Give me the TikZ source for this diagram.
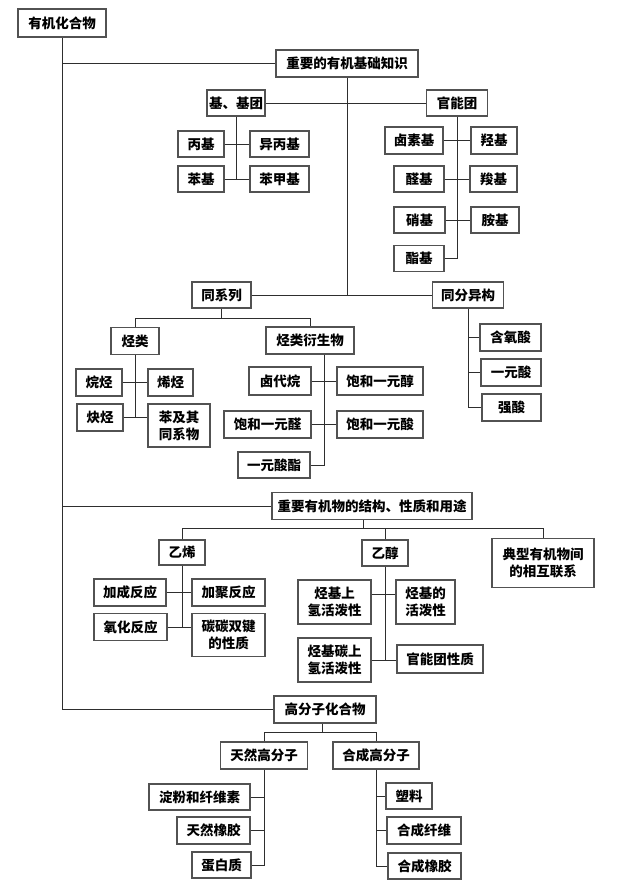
\documentclass[tikz,border=0pt]{standalone}
\usepackage{fontspec}
\newfontfamily\cjkfont{Noto Sans CJK SC}
\usepackage{tikz}
\usetikzlibrary{positioning}
\colorlet{boxline}{black!68}
\colorlet{linkline}{black!82}

\begin{document}
\begin{tikzpicture}[x=1pt,y=-1pt,
    box/.style={draw=boxline,line width=1.1pt,fill=white,inner sep=0pt,align=center,
      font=\cjkfont\bfseries\fontsize{13.5}{17}\selectfont},
    sz/.style 2 args={minimum width=#1,minimum height=#2},
    link/.style={draw=linkline,line width=1pt}]
  \useasboundingbox (0,0) rectangle (626,892);
  % trunk
  \node[box,sz={88}{28}] (root) at (62,23) {有机化合物};
  \node[box,sz={142}{27}] (basic) at (347,63.5) {重要的有机基础知识};
  \node[box,sz={200}{27}] (struct) at (372,506) {重要有机物的结构、性质和用途};
  \node[box,sz={102}{27}] (poly) at (325,709.5) {高分子化合物};
  % basic knowledge
  \node[box,sz={58}{26}] (group) at (236,103) {基、基团};
  \node[box,sz={61}{26}] (func) at (457,103) {官能团};
  \node[box,sz={46}{26}] (propyl) at (201,144) {丙基};
  \node[box,sz={59}{26}] (isopropyl) at (279.5,144) {异丙基};
  \node[box,sz={46}{26}] (phenyl) at (201,179) {苯基};
  \node[box,sz={59}{26}] (benzyl) at (279.5,179) {苯甲基};
  \node[box,sz={58}{27}] (halo) at (414,140.5) {卤素基};
  \node[box,sz={46}{27}] (hydroxy) at (494,140.5) {羟基};
  \node[box,sz={50}{26}] (aldehyde) at (419,179) {醛基};
  \node[box,sz={47}{26}] (carboxyl) at (493.5,179) {羧基};
  \node[box,sz={51}{26}] (nitro) at (419.5,220) {硝基};
  \node[box,sz={48}{26}] (amino) at (495,220) {胺基};
  \node[box,sz={50}{26}] (ester) at (419,258.5) {酯基};
  \node[box,sz={59}{26}] (homo) at (221.5,295) {同系列};
  \node[box,sz={71}{26}] (isomer) at (468,295) {同分异构};
  \node[box,sz={48}{27}] (hydrocarbon) at (135,341) {烃类};
  \node[box,sz={88}{27}] (derivative) at (310,340.5) {烃类衍生物};
  \node[box,sz={46}{27}] (alkane) at (99,382.5) {烷烃};
  \node[box,sz={45}{27}] (alkene) at (170.5,382.5) {烯烃};
  \node[box,sz={46}{27}] (alkyne) at (100,417.5) {炔烃};
  \node[box,sz={62}{43}] (benzene) at (179,425.5) {苯及其\\同系物};
  \node[box,sz={62}{28}] (haloalkane) at (280,381) {卤代烷};
  \node[box,sz={86}{28}] (alcohol) at (380,381) {饱和一元醇};
  \node[box,sz={87}{27}] (aldehydex) at (267.5,424.5) {饱和一元醛};
  \node[box,sz={86}{27}] (acid) at (380,424.5) {饱和一元酸};
  \node[box,sz={72}{26}] (esterx) at (274,465) {一元酸酯};
  \node[box,sz={61}{27}] (oxyacid) at (510.5,337.5) {含氧酸};
  \node[box,sz={60}{27}] (monoacid) at (511,372.5) {一元酸};
  \node[box,sz={59}{27}] (strong) at (511.5,407.5) {强酸};
  % structure and properties
  \node[box,sz={46}{25}] (ethylene) at (182,552.5) {乙烯};
  \node[box,sz={46}{26}] (ethanol) at (385,553) {乙醇};
  \node[box,sz={102}{49}] (typical) at (543,563) {典型有机物间\\的相互联系};
  \node[box,sz={72}{27}] (addition) at (130,592.5) {加成反应};
  \node[box,sz={73}{27}] (addpoly) at (228.5,592.5) {加聚反应};
  \node[box,sz={73}{27}] (oxidation) at (130.5,627) {氧化反应};
  \node[box,sz={73}{43}] (doublebond) at (228.5,635) {碳碳双键\\的性质};
  \node[box,sz={73}{44}] (hbond) at (334.5,602) {烃基上\\氢活泼性};
  \node[box,sz={59}{44}] (alkyl) at (425.5,602) {烃基的\\活泼性};
  \node[box,sz={73}{44}] (hcarbon) at (334.5,660) {烃基碳上\\氢活泼性};
  \node[box,sz={86}{28}] (funcprop) at (440,659) {官能团性质};
  % polymers
  \node[box,sz={87}{27}] (natural) at (264,755.5) {天然高分子};
  \node[box,sz={86}{27}] (synthetic) at (376,755.5) {合成高分子};
  \node[box,sz={101}{26}] (starch) at (199.5,797) {淀粉和纤维素};
  \node[box,sz={73}{27}] (rubber) at (213.5,830.5) {天然橡胶};
  \node[box,sz={59}{26}] (protein) at (221.5,865) {蛋白质};
  \node[box,sz={46}{26}] (plastic) at (409,796) {塑料};
  \node[box,sz={74}{27}] (fiber) at (424,830.5) {合成纤维};
  \node[box,sz={73}{26}] (srubber) at (424.5,866) {合成橡胶};

  \draw[link] (root.south) |- (poly.west);
  \draw[link] (root.south |- basic.west) -- (basic.west);
  \draw[link] (root.south |- struct.west) -- (struct.west);

  \draw[link] (basic.south) -- (basic.south |- homo.east);
  \draw[link] (homo.east) -- (isomer.west);
  \draw[link] (group.east) -- (func.west);
  \draw[link] (group.south) -- (group.south |- phenyl.east);
  \draw[link] (propyl.east) -- (isopropyl.west);
  \draw[link] (phenyl.east) -- (benzyl.west);
  \draw[link] (func.south) |- (ester.east);
  \draw[link] (halo.east) -- (hydroxy.west);
  \draw[link] (aldehyde.east) -- (carboxyl.west);
  \draw[link] (nitro.east) -- (amino.west);

  \draw[link] (homo.south) -- ++(0,9.5) -| (hydrocarbon.north);
  \draw[link] (homo.south) ++(0,9.5) -| (derivative.north);
  \draw[link] (hydrocarbon.south) -- (hydrocarbon.south |- alkyne.east);
  \draw[link] (alkane.east) -- (alkene.west);
  \draw[link] (alkyne.east) -- (alkyne.east -| benzene.west);
  \draw[link] ([xshift=14pt]derivative.south) |- (esterx.east);
  \draw[link] (haloalkane.east) -- (alcohol.west);
  \draw[link] (aldehydex.east) -- (acid.west);
  \draw[link] (isomer.south) |- (strong.west);
  \draw[link] (isomer.south |- oxyacid.west) -- (oxyacid.west);
  \draw[link] (isomer.south |- monoacid.west) -- (monoacid.west);

  \draw[link] ([xshift=-9pt]struct.south) -- ++(0,8.5) coordinate (sj);
  \draw[link] (ethylene.north) |- (sj) -| (typical.north);
  \draw[link] (ethanol.north) -- (ethanol.north |- sj);
  \draw[link] (ethylene.south) -- (ethylene.south |- oxidation.east);
  \draw[link] (addition.east) -- (addpoly.west);
  \draw[link] (oxidation.east) -- (oxidation.east -| doublebond.west);
  \draw[link] (ethanol.south) -- (ethanol.south |- hcarbon.east);
  \draw[link] ([yshift=8pt]hbond.east) -- ([yshift=8pt]alkyl.west);
  \draw[link] (hcarbon.east) -- (hcarbon.east -| funcprop.west);

  \draw[link] ([xshift=-3pt]poly.south) -- ++(0,9) coordinate (pj);
  \draw[link] (natural.north) |- (pj) -| (synthetic.north);
  \draw[link] (natural.south) |- (protein.east);
  \draw[link] (starch.east) -- (starch.east -| natural.south);
  \draw[link] (rubber.east) -- (rubber.east -| natural.south);
  \draw[link] (synthetic.south) |- (srubber.west);
  \draw[link] (plastic.west) -- (plastic.west -| synthetic.south);
  \draw[link] (fiber.west) -- (fiber.west -| synthetic.south);
\end{tikzpicture}
\end{document}
